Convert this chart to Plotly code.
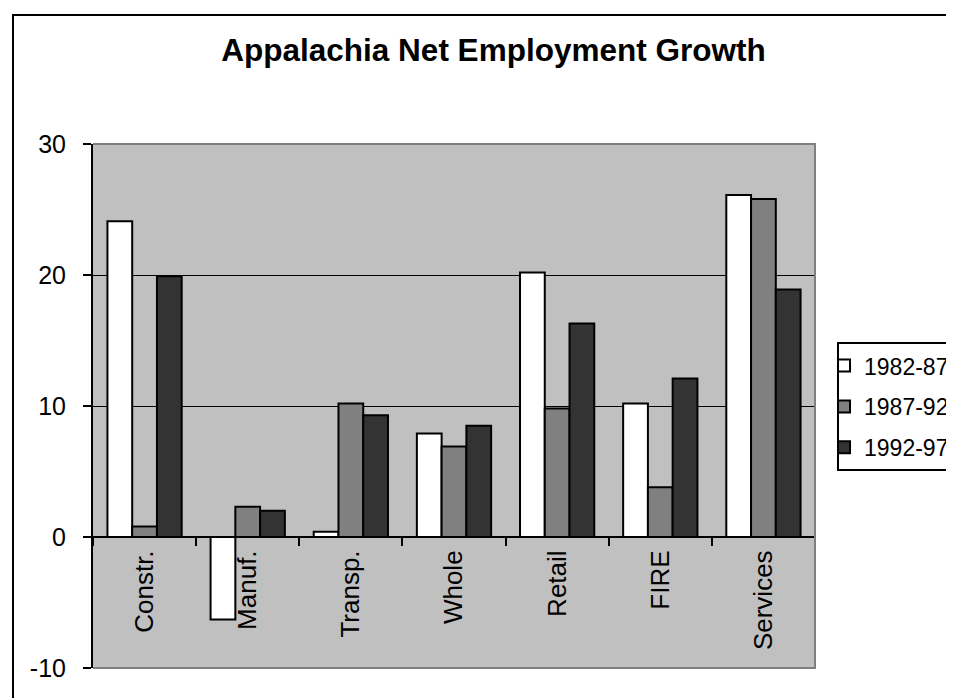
import plotly.graph_objects as go

categories = ["Constr.", "Manuf.", "Transp.", "Whole", "Retail", "FIRE", "Services"]
series_names = ["1982-87", "1987-92", "1992-97"]
v_1982_87 = [24.1, -6.3, 0.4, 7.9, 20.2, 10.2, 26.1]
v_1987_92 = [0.8, 2.3, 10.2, 6.9, 9.8, 3.8, 25.8]
v_1992_97 = [19.9, 2.0, 9.3, 8.5, 16.3, 12.1, 18.9]
y_ticks = [-10, 0, 10, 20, 30]

series_values = [v_1982_87, v_1987_92, v_1992_97]
colors = ["#FFFFFF", "#808080", "#333333"]
FONT = "Arial, 'Liberation Sans', sans-serif"

fig = go.Figure()
for i, (name, vals) in enumerate(zip(series_names, series_values)):
    fig.add_trace(go.Bar(
        x=categories, y=vals, name=name, legendgroup=name,
        marker=dict(color=colors[i], line=dict(color="black", width=2)),
    ))

fig.update_layout(
    width=954, height=698,
    margin=dict(l=85, r=147, t=136, b=38, autoexpand=False),
    paper_bgcolor="white", plot_bgcolor="#C0C0C0",
    font=dict(family=FONT, size=22, color="black"),
    barmode="group", bargap=0.28, bargroupgap=0,
    showlegend=True,
    legend=dict(
        x=1.0305, xanchor="left", xref="paper",
        y=0.622, yanchor="top", yref="paper",
        bordercolor="black", borderwidth=2, bgcolor="white",
        font=dict(family=FONT, size=23), tracegroupgap=8,
        indentation=-15,
    ),
    title=dict(
        text="<b>Appalachia Net Employment Growth</b>",
        font=dict(family=FONT, size=31.5, color="black"),
        x=0.5547, xref="paper", xanchor="center",
        y=1 - 42 / 698, yref="container", yanchor="middle",
    ),
)

fig.update_xaxes(
    type="category", anchor="free", position=0.25, automargin=False,
    showline=True, linecolor="black", linewidth=2,
    ticks="outside", tickson="boundaries", ticklen=8, tickwidth=2, tickcolor="black",
    tickangle=-90, ticklabelstandoff=2,
    tickfont=dict(family=FONT, size=26),
    showgrid=False, zeroline=False,
)
fig.update_yaxes(
    range=[-10, 30], tickvals=y_ticks, ticktext=[str(t) for t in y_ticks],
    automargin=False,
    showline=True, linecolor="black", linewidth=2,
    ticks="outside", ticklen=8, tickwidth=2, tickcolor="black",
    ticklabelstandoff=12,
    showgrid=True, gridcolor="black", gridwidth=1,
    zeroline=False,
    tickfont=dict(family=FONT, size=25),
)

# plot-area border (top, right, bottom) in gray
fig.add_shape(type="path", xref="paper", yref="paper",
              path="M 0,1 L 1,1 L 1,0 L 0,0",
              line=dict(color="#808080", width=2), layer="above")
# chart-area outer border
fig.add_shape(type="rect", xref="paper", yref="paper",
              x0=-0.1108, x1=1.5, y0=-0.3, y1=1.2462,
              line=dict(color="black", width=2), fillcolor="rgba(0,0,0,0)", layer="below")

fig.write_html("out.html")
